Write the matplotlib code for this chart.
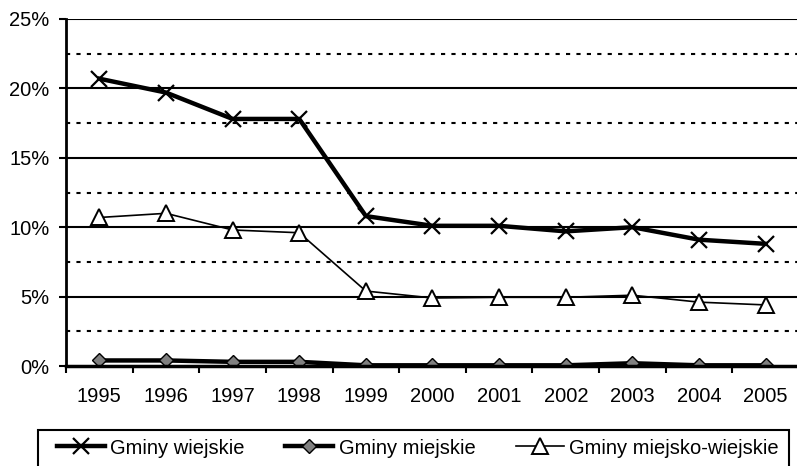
import matplotlib.pyplot as plt
from matplotlib.patches import Rectangle
from matplotlib.ticker import FixedLocator, FuncFormatter

plt.rcParams['font.family'] = ['Liberation Sans', 'DejaVu Sans']

lata = [1995, 1996, 1997, 1998, 1999, 2000, 2001, 2002, 2003, 2004, 2005]
wiejskie = [20.7, 19.7, 17.8, 17.8, 10.8, 10.1, 10.1, 9.7, 10.0, 9.1, 8.8]
miejskie = [0.4, 0.4, 0.3, 0.3, 0.05, 0.05, 0.05, 0.05, 0.2, 0.05, 0.05]
miejsko_wiejskie = [10.7, 11.0, 9.8, 9.6, 5.4, 4.9, 4.95, 4.95, 5.1, 4.6, 4.4]

fig = plt.figure(figsize=(7.97, 4.66), dpi=100)
ax = fig.add_axes([66/797, 100/466, 733/797, 347/466])

x = list(range(len(lata)))

# siatka
for v in [2.5, 7.5, 12.5, 17.5, 22.5]:
    ax.axhline(v, color='black', lw=1.5, ls=(0, (2, 3)), zorder=1)
for v in [5, 10, 15, 20, 25]:
    ax.axhline(v, color='black', lw=1.5, zorder=1)

ax.plot(x, wiejskie, color='black', lw=3.2, marker='x', ms=12, mew=1.6,
        label='Gminy wiejskie', zorder=3)
ax.plot(x, miejskie, color='black', lw=3.2, marker='D', ms=7, mfc='#808080',
        mec='black', mew=1, label='Gminy miejskie', zorder=3)
ax.plot(x, miejsko_wiejskie, color='black', lw=1.2, marker='^', ms=11,
        mfc='white', mec='black', mew=1.4, label='Gminy miejsko-wiejskie', zorder=3)

ax.set_xlim(-0.5, len(lata) - 0.5)
ax.set_ylim(0, 25)
ax.set_xticks(x)
ax.set_xticklabels([str(r) for r in lata])
ax.xaxis.set_minor_locator(FixedLocator([i - 0.5 for i in range(len(lata) + 1)]))
ax.tick_params(axis='x', which='major', length=0, pad=15, labelsize=14.5)
ax.tick_params(axis='x', which='minor', length=5, width=1.5, direction='out')
ax.set_yticks([0, 5, 10, 15, 20, 25])
ax.yaxis.set_major_formatter(FuncFormatter(lambda v, p: '%d%%' % v))
ax.tick_params(axis='y', length=5, width=1.5, labelsize=14.5, pad=7)

for s in ['top', 'right']:
    ax.spines[s].set_visible(False)
ax.spines['left'].set_linewidth(2)
ax.spines['bottom'].set_linewidth(2.5)
ax.spines['bottom'].set_zorder(4)

# ramka legendy (dolna krawedz poza obrazem)
fig.patches.append(Rectangle((38/797, -20/466), 751/797, 56/466,
                             transform=fig.transFigure, fill=False,
                             edgecolor='black', lw=1.5))
leg = fig.legend(loc='center left', bbox_to_anchor=(57/797, 1 - 448/466),
                 ncol=3, fontsize=14.5, frameon=False, handlelength=2.4,
                 handletextpad=0.25, borderaxespad=0, borderpad=0,
                 columnspacing=2.0)

fig.savefig('out.png', dpi=100)
